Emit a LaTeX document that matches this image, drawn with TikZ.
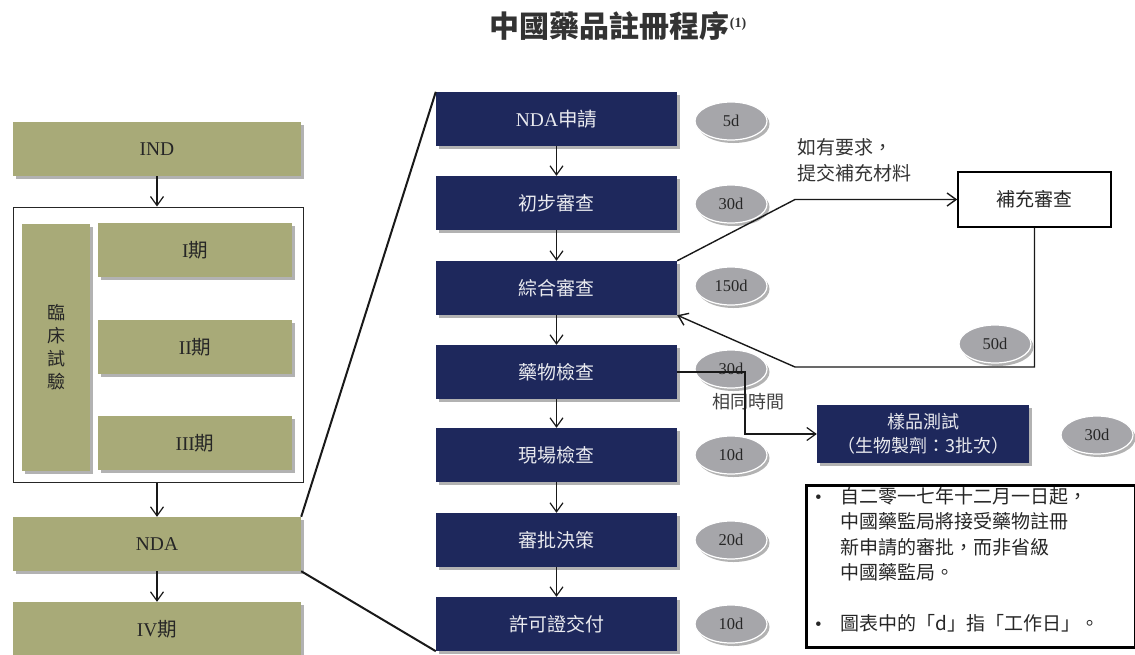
\documentclass[tikz,border=0pt]{standalone}
\usepackage{fontspec}
\setmainfont{Liberation Serif}
\newfontfamily\cjk{Noto Sans CJK TC}
\usetikzlibrary{shapes.geometric,arrows.meta,shadows,calc}
\definecolor{olivebox}{RGB}{168,170,120}
\definecolor{navybox}{RGB}{30,40,92}
\definecolor{pillgray}{RGB}{166,166,170}
\begin{document}
\begin{tikzpicture}[x=1pt,y=-1pt,
  shade/.style={drop shadow={shadow xshift=2.5pt,shadow yshift=-3pt,fill=black!60,opacity=.5}},
  obox/.style={rectangle,fill=olivebox,shade,minimum height=54pt,inner sep=0pt,text=black!85,font=\fontsize{19.5}{23}\selectfont},
  nbox/.style={rectangle,fill=navybox,shade,minimum width=241pt,minimum height=54pt,inner sep=0pt,text=white!90!navybox,font=\cjk\fontsize{19}{22}\selectfont},
  pill/.style={ellipse,fill=pillgray,draw=white,line width=1.2pt,minimum width=72pt,minimum height=38pt,inner sep=0pt,shade,text=black!85,font=\fontsize{16.5}{18}\selectfont},
  arr/.style={-{Straight Barb[length=9pt,width=13pt]},line width=1.2pt,black!90},
  link/.style={line width=2pt,black!90}]
\useasboundingbox (0,0) rectangle (1135,654);

% title
\node[font=\cjk\bfseries\fontsize{30}{32}\selectfont,text=black!80] (title) at (618,26)
  {中國藥品註冊程序{\rmfamily\bfseries\fontsize{14}{14}\selectfont\raisebox{10pt}{(1)}}};

% left column
\node[obox,minimum width=288pt] (ind) at (157,149) {IND};
\node[draw=black!85,line width=1pt,minimum width=290pt,minimum height=275pt,inner sep=0pt] (trial) at (158,344.5) {};
\node[obox,minimum width=68pt,minimum height=247pt,align=center,font=\cjk\fontsize{18}{23}\selectfont] (clin) at (56,347.5) {臨\\床\\試\\驗};
\node[obox,minimum width=194pt] (p1) at (195,250) {I{\cjk 期}};
\node[obox,minimum width=194pt] (p2) at (195,347) {II{\cjk 期}};
\node[obox,minimum width=194pt] (p3) at (195,443) {III{\cjk 期}};
\node[obox,minimum width=288pt] (nda) at (157,544) {NDA};
\node[obox,minimum width=288pt] (p4) at (157,629) {IV{\cjk 期}};

\draw[arr] (ind.south) -- (ind.south |- trial.north);
\draw[arr] (ind.south |- trial.south) -- (ind.south |- nda.north);
\draw[arr] (nda.south) -- (p4.north);

% blue column
\node[nbox] (b1) at (556.5,119) {\rmfamily\fontsize{19.5}{22}\selectfont NDA{\cjk 申請}};
\node[nbox] (b2) at (556.5,203) {初步審查};
\node[nbox] (b3) at (556.5,288) {綜合審查};
\node[nbox] (b4) at (556.5,372) {藥物檢查};
\node[nbox] (b5) at (556.5,455) {現場檢查};
\node[nbox] (b6) at (556.5,540) {審批決策};
\node[nbox] (b7) at (556.5,624) {許可證交付};

\draw[arr] (b1) -- (b2);
\draw[arr] (b2) -- (b3);
\draw[arr] (b3) -- (b4);
\draw[arr] (b4) -- (b5);
\draw[arr] (b5) -- (b6);
\draw[arr] (b6) -- (b7);

% zoom lines
\draw[link] (nda.north east) -- (b1.north west);
\draw[link] (nda.south east) -- (b7.south west);

% durations
\node[pill] (e1) at (731,121) {5d};
\node[pill] (e2) at (731,204) {30d};
\node[pill] (e3) at (731,286) {150d};
\node[pill] (e4) at (731,369) {30d};
\node[pill] (e5) at (731,455) {10d};
\node[pill] (e6) at (731,540) {20d};
\node[pill] (e7) at (731,624) {10d};
\node[pill] (e8) at (995,344) {50d};
\node[pill] (e9) at (1097,435) {30d};

% supplementary review
\node[draw=black,line width=1.5pt,fill=white,minimum width=153pt,minimum height=55pt,inner sep=0pt,font=\cjk\fontsize{19}{22}\selectfont,text=black!85] (sup) at (1034.5,199.5) {補充審查};
\node[anchor=north west,align=left,inner sep=0pt,font=\cjk\fontsize{19}{26}\selectfont,text=black!80] (req) at (797,138) {如有要求，\\提交補充材料};
\coordinate (c1) at (795,199.5);
\draw[arr,line width=1.4pt] (b3.north east) -- (c1) -- (sup.west);
\coordinate (c2) at (795,367);
\draw[arr,line width=1.4pt] (sup.south) -- (sup.south |- c2) -- (c2) -- (b3.south east);

% sample testing
\node[nbox,minimum width=212pt,minimum height=58pt,align=center,font=\cjk\fontsize{18}{24}\selectfont] (smp) at (923,434) {樣品測試\\（生物製劑：3批次）};
\node[font=\cjk\fontsize{18}{20}\selectfont,text=black!75] (same) at (748,402) {相同時間};
\coordinate (c3) at (745,372);
\draw[arr] (b4.east) -- (c3) -- (c3 |- smp.west) -- (smp.west);

% note
\node[draw=black,line width=3pt,minimum width=329pt,minimum height=162pt,inner sep=0pt,anchor=north west] (note) at (804.5,483.5) {};
\node[anchor=base west,inner sep=0pt,font=\cjk\fontsize{19}{25.5}\selectfont,text=black!85] (notetext) at (815,503)
 {\begin{tabular}[t]{@{}l@{\hspace{19pt}}l@{}}
  {\rmfamily•} & 自二零一七年十二月一日起，\\
   & 中國藥監局將接受藥物註冊\\
   & 新申請的審批，而非省級\\
   & 中國藥監局。\\
   & \\
  {\rmfamily•} & 圖表中的「d」指「工作日」。
  \end{tabular}};
\end{tikzpicture}
\end{document}
